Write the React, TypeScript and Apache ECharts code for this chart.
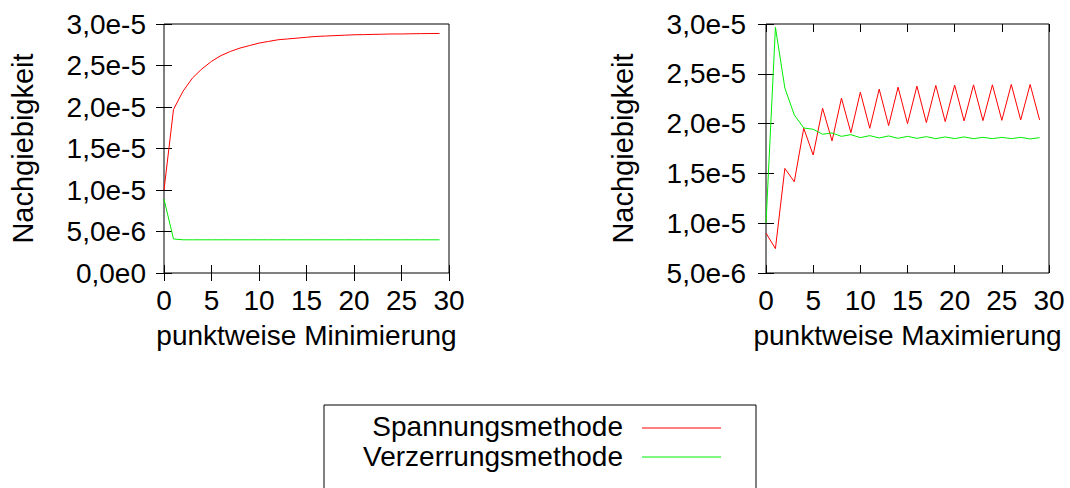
import React, { useEffect, useRef } from "react";
import * as echarts from "echarts";

const xValues = [0, 1, 2, 3, 4, 5, 6, 7, 8, 9, 10, 11, 12, 13, 14, 15, 16, 17, 18, 19, 20, 21, 22, 23, 24, 25, 26, 27, 28, 29];

// Left plot: punktweise Minimierung (values in units of 1e-5)
const minSpannung = [1.0, 1.97, 2.19, 2.35, 2.46, 2.55, 2.62, 2.67, 2.71, 2.74, 2.77, 2.79, 2.81, 2.82, 2.83, 2.84, 2.85, 2.855, 2.86, 2.865, 2.87, 2.872, 2.875, 2.877, 2.88, 2.88, 2.882, 2.884, 2.885, 2.886];
const minVerzerrung = [0.89, 0.41, 0.40, 0.40, 0.40, 0.40, 0.40, 0.40, 0.40, 0.40, 0.40, 0.40, 0.40, 0.40, 0.40, 0.40, 0.40, 0.40, 0.40, 0.40, 0.40, 0.40, 0.40, 0.40, 0.40, 0.40, 0.40, 0.40, 0.40, 0.40];

// Right plot: punktweise Maximierung (values in units of 1e-5)
const maxSpannung = [0.90, 0.745, 1.55, 1.416, 1.953, 1.685, 2.154, 1.826, 2.255, 1.909, 2.315, 1.953, 2.346, 1.98, 2.366, 2.0, 2.376, 2.01, 2.383, 2.02, 2.386, 2.027, 2.389, 2.03, 2.389, 2.033, 2.393, 2.037, 2.393, 2.037];
const maxVerzerrung = [1.0, 2.966, 2.356, 2.087, 1.956, 1.943, 1.893, 1.906, 1.872, 1.889, 1.859, 1.879, 1.856, 1.876, 1.852, 1.872, 1.852, 1.869, 1.849, 1.866, 1.849, 1.866, 1.849, 1.862, 1.849, 1.862, 1.849, 1.862, 1.846, 1.859];

const leftYTickLabels = ["0,0e0", "5,0e-6", "1,0e-5", "1,5e-5", "2,0e-5", "2,5e-5", "3,0e-5"];
const rightYTickLabels = ["5,0e-6", "1,0e-5", "1,5e-5", "2,0e-5", "2,5e-5", "3,0e-5"];
const xTickLabels = ["0", "5", "10", "15", "20", "25", "30"];

const seriesNames = ["Spannungsmethode", "Verzerrungsmethode"];
const leftXTitle = "punktweise Minimierung";
const rightXTitle = "punktweise Maximierung";
const yTitle = "Nachgiebigkeit";

const SCALE = 1e-5;
const FONT = "'Liberation Sans', Arial, Helvetica, sans-serif";
const FS = 28;

const toPairs = (arr: number[]) => arr.map((v, i) => [xValues[i], v * SCALE]);

export default function App() {
  const ref = useRef<HTMLDivElement>(null);
  useEffect(() => {
    if (!ref.current) return;
    const chart = echarts.init(ref.current, null, { renderer: "svg" });
    const textStyle = { color: "#000", fontFamily: FONT, fontSize: FS };
    const tick = { show: true, inside: true, length: 8, lineStyle: { color: "#000", width: 1 } };
    const xBase = (grid: number, pos: "bottom" | "top", labels: boolean, name?: string) => ({
      type: "value",
      gridIndex: grid,
      position: pos,
      min: 0,
      max: 30,
      interval: 5,
      axisLine: { show: false },
      axisTick: tick,
      splitLine: { show: false },
      axisLabel: {
        show: labels,
        margin: 13,
        ...textStyle,
        formatter: (v: number) => xTickLabels[Math.round(v / 5)],
      },
      name: name || "",
      nameLocation: "middle",
      nameGap: 48,
      nameTextStyle: textStyle,
    });
    const yBase = (grid: number, pos: "left" | "right", labels: boolean, min: number, lbls: string[], offsetIdx: number, margin: number, nameGap: number, name?: string) => ({
      type: "value",
      gridIndex: grid,
      position: pos,
      min,
      max: 3e-5,
      interval: 5e-6,
      axisLine: { show: false },
      axisTick: tick,
      splitLine: { show: false },
      axisLabel: {
        show: labels,
        margin,
        ...textStyle,
        formatter: (v: number) => lbls[Math.round(v / 5e-6) - offsetIdx],
      },
      name: name || "",
      nameLocation: "middle",
      nameGap,
      nameRotate: 90,
      nameTextStyle: { ...textStyle, fontSize: FS + 1 },
    });
    const lineSeries = (name: string, data: number[], color: string, xi: number, yi: number) => ({
      type: "line",
      name,
      data: toPairs(data),
      xAxisIndex: xi,
      yAxisIndex: yi,
      showSymbol: false,
      symbol: "none",
      lineStyle: { color, width: 1 },
      itemStyle: { color },
    });
    chart.setOption({
      animation: false,
      backgroundColor: "#fff",
      grid: [
        { left: 164, top: 24, width: 285, height: 249, show: true, borderColor: "#000", borderWidth: 1, backgroundColor: "transparent" },
        { left: 766, top: 24, width: 283, height: 249, show: true, borderColor: "#000", borderWidth: 1, backgroundColor: "transparent" },
      ],
      xAxis: [
        xBase(0, "bottom", true, leftXTitle),
        xBase(0, "top", false),
        xBase(1, "bottom", true, rightXTitle),
        xBase(1, "top", false),
      ],
      yAxis: [
        yBase(0, "left", true, 0, leftYTickLabels, 0, 18, 127, yTitle),
        yBase(0, "right", false, 0, leftYTickLabels, 0, 18, 0),
        yBase(1, "left", true, 5e-6, rightYTickLabels, 1, 20, 129, yTitle),
        yBase(1, "right", false, 5e-6, rightYTickLabels, 1, 20, 0),
      ],
      series: [
        lineSeries(seriesNames[0], minSpannung, "#ff0000", 0, 0),
        lineSeries(seriesNames[1], minVerzerrung, "#00ee00", 0, 0),
        lineSeries(seriesNames[0], maxSpannung, "#ff0000", 2, 2),
        lineSeries(seriesNames[1], maxVerzerrung, "#00ee00", 2, 2),
      ],
      graphic: [
        { type: "rect", shape: { x: 324, y: 405, width: 432, height: 100 }, style: { fill: "#fff", stroke: "#000", lineWidth: 1 } },
        { type: "text", style: { x: 623, y: 426, text: seriesNames[0], align: "right", verticalAlign: "middle", fill: "#000", font: `${FS}px ${FONT}` } },
        { type: "text", style: { x: 623, y: 456, text: seriesNames[1], align: "right", verticalAlign: "middle", fill: "#000", font: `${FS}px ${FONT}` } },
        { type: "line", shape: { x1: 642, y1: 428, x2: 721, y2: 428 }, style: { stroke: "#ff0000", lineWidth: 1 } },
        { type: "line", shape: { x1: 642, y1: 457, x2: 721, y2: 457 }, style: { stroke: "#00ee00", lineWidth: 1 } },
      ],
    });
    return () => chart.dispose();
  }, []);
  return <div ref={ref} style={{ position: "fixed", left: 0, top: 0, width: 1070, height: 488 }} />;
}
